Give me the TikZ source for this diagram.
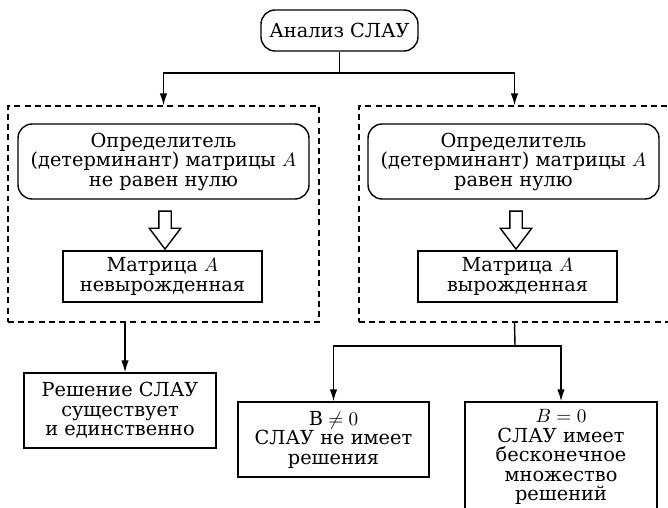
\documentclass[tikz,border=0pt]{standalone}
\usepackage{amsmath,amssymb}
\usepackage{fontspec}
\setmainfont{DejaVu Serif}
\usepackage{xcolor}
\usepackage{tikz}
\usetikzlibrary{arrows.meta,shapes.arrows,positioning}

\begin{document}
\begin{tikzpicture}[
      x=0.02cm, y=-0.02cm,
      >={Latex[length=0.24cm, width=0.15cm]},
      every node/.style={font=\fontsize{11}{11.1}\selectfont},
      rbox/.style={
        draw, rounded corners=8pt, line width=0.8pt,
        align=center, inner sep=2pt
      },
      sbox/.style={
        draw, line width=0.8pt, align=center, inner sep=2pt
      },
      frame/.style={
        draw, line width=0.7pt, dash pattern=on 3.4pt off 2.4pt,
        minimum width=6.22cm, minimum height=4.32cm, inner sep=0pt
      },
      hollow/.style={
        draw, single arrow, shape border rotate=270, line width=0.8pt,
        inner sep=0.11cm, minimum height=0.76cm,
        single arrow head extend=0.19cm, single arrow tip angle=74
      },
      arr/.style={->, line width=0.8pt},
    ]
      \useasboundingbox (0,0) rectangle (668,507);
      \node[rbox, minimum width=3.14cm, minimum height=0.82cm] (slau) at (339.5,30.5) {Анализ СЛАУ};

      \node[frame] (frameL) at (163.5,214) {};
      \node[frame] (frameR) at (514.5,214) {};

      \node[rbox, minimum width=5.82cm, minimum height=1.5cm] (detL) at (163.5,161.5)
        {Определитель\\(детерминант) матрицы $A$\\не равен нулю};
      \node[rbox, minimum width=5.82cm, minimum height=1.5cm] (detR) at (513.5,161.5)
        {Определитель\\(детерминант) матрицы $A$\\равен нулю};

      \node[hollow] (implL) at (165,226) {};
      \node[hollow] (implR) at (516,226) {};

      \node[sbox, minimum width=3.98cm, minimum height=1.02cm] (matL) at (162.5,276.5)
        {Матрица $A$\\невырожденная};
      \node[sbox, minimum width=3.98cm, minimum height=1.02cm] (matR) at (517.5,276.5)
        {Матрица $A$\\вырожденная};

      \node[sbox, minimum width=3.84cm, minimum height=1.5cm] (unique) at (120,410.5)
        {Решение СЛАУ\\существует\\и единственно};
      \node[sbox, minimum width=3.82cm, minimum height=1.5cm] (nosol) at (333.5,439.5)
        {$\mathrm{B}\neq 0$\\СЛАУ не имеет\\решения};
      \node[sbox, minimum width=3.84cm, minimum height=2.2cm] (infsol) at (561,457)
        {$B=0$\\СЛАУ имеет\\бесконечное\\множество\\решений};

      \coordinate (forkT) at (339.5,73);
      \coordinate (forkB) at (515,346);
      \coordinate (dropL) at (125,322);

      \draw[line width=0.8pt] (slau.south) -- (forkT);
      \draw[arr] (forkT) -| (frameL.north);
      \draw[arr] (forkT) -| (frameR.north);

      \draw[arr] (dropL) -- (dropL |- unique.north);

      \draw[line width=0.8pt] (frameR.south |- 0,322) -- (forkB);
      \draw[arr] (forkB) -| (nosol.north);
      \draw[arr] (forkB) -| (infsol.north);
    \end{tikzpicture}
\end{document}
